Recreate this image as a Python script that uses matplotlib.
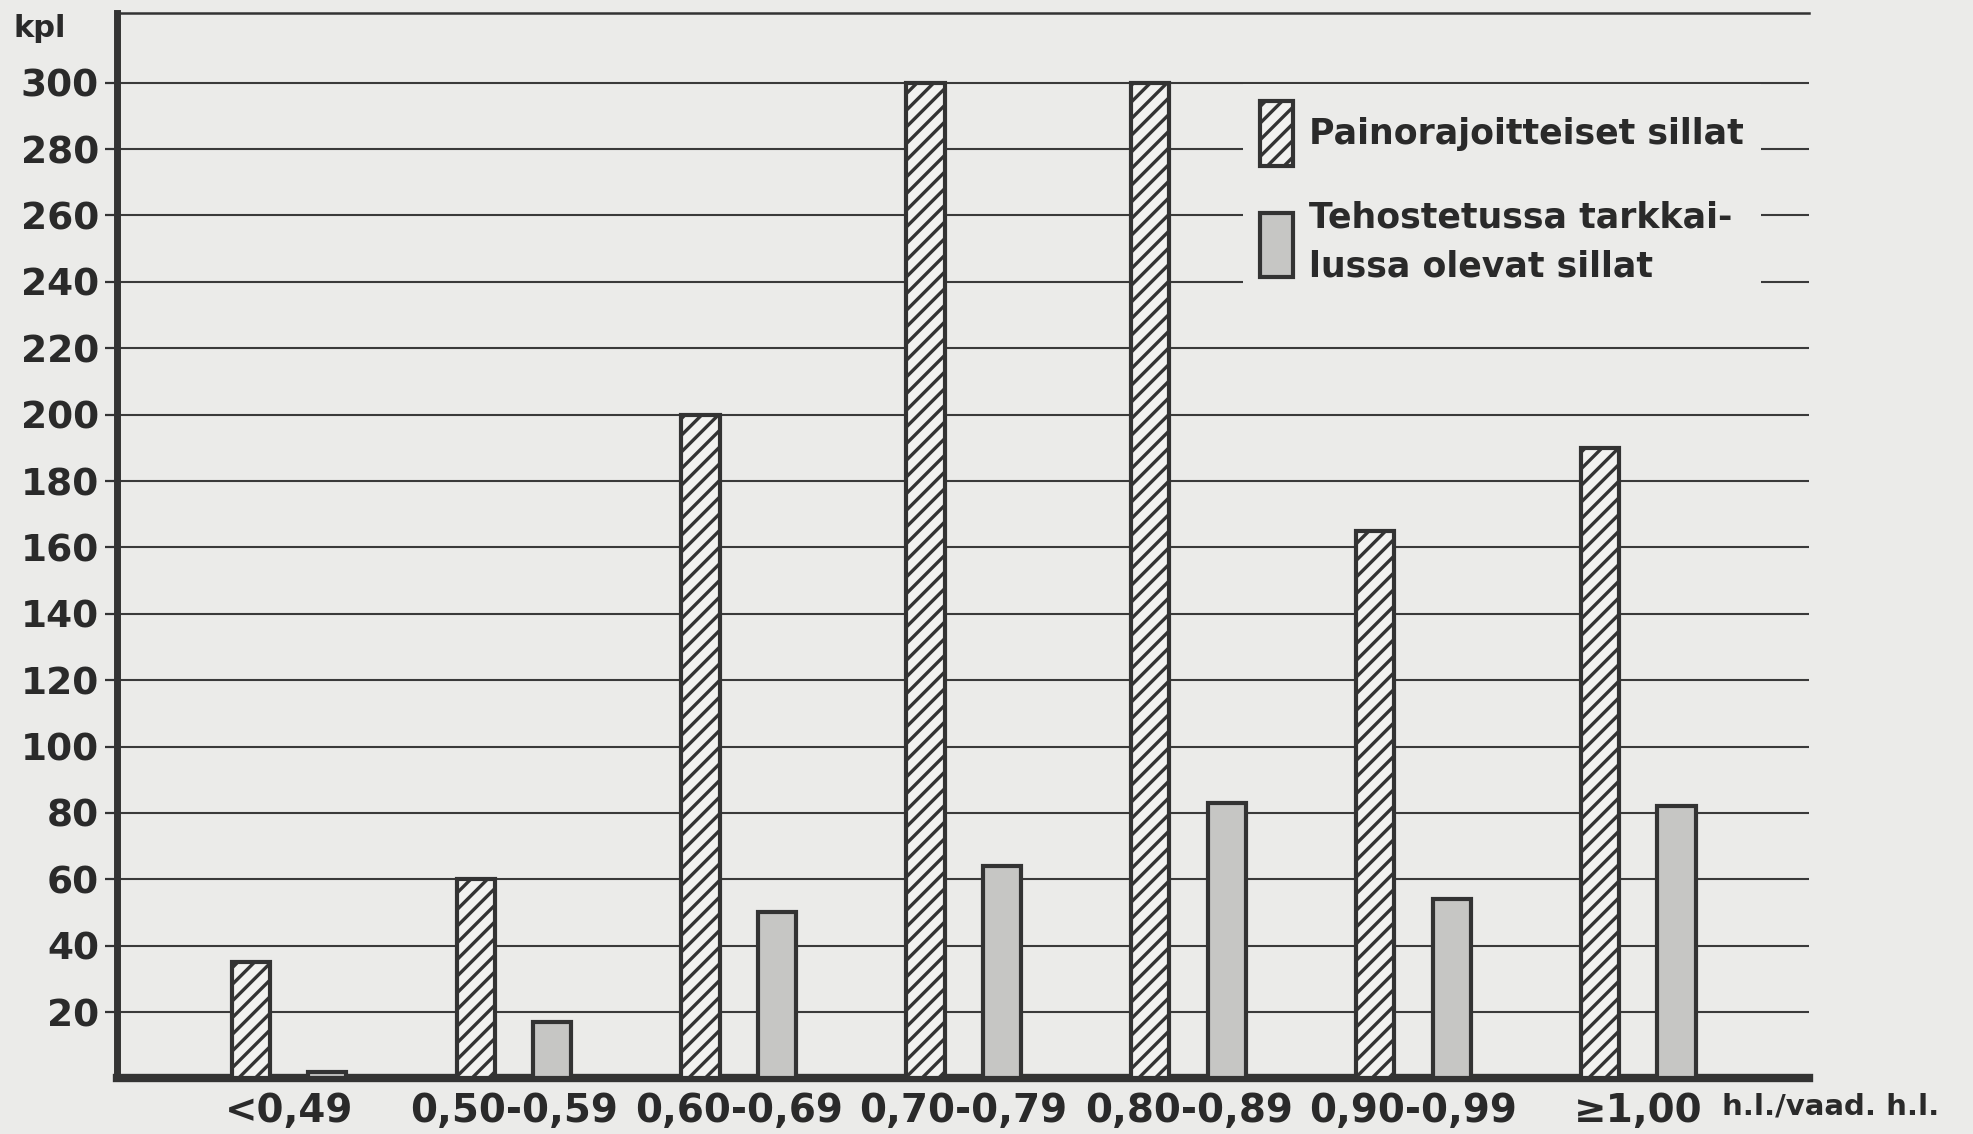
import numpy as np
import matplotlib
matplotlib.use("Agg")
import matplotlib.pyplot as plt
from matplotlib.patches import Patch

# luokat (h.l./vaad. h.l.)
luokat = ["<0,49", "0,50-0,59", "0,60-0,69", "0,70-0,79", "0,80-0,89", "0,90-0,99", "\u22651,00"]
painorajoitteiset = [35, 60, 200, 300, 300, 165, 190]
tehostetut = [2, 17, 50, 64, 83, 54, 82]
y_ticks = list(range(20, 301, 20))

paperi = "#ebebe9"
tumma = "#333333"

plt.rcParams["font.family"] = ["DejaVu Sans"]
plt.rcParams["font.weight"] = "bold"
plt.rcParams["hatch.linewidth"] = 2.4

fig = plt.figure(figsize=(19.73, 11.34), dpi=100)
fig.patch.set_facecolor(paperi)
ax = fig.add_axes([0.0593, 0.049, 0.8577, 0.9395])
ax.set_facecolor(paperi)

x = np.arange(len(luokat))
leveys = 0.17
ax.bar(x - 0.17, painorajoitteiset, leveys, facecolor="#f2f2f0", edgecolor=tumma,
       hatch="//", linewidth=3, zorder=3)
ax.bar(x + 0.17, tehostetut, leveys, facecolor="#c6c6c4", edgecolor=tumma,
       linewidth=3, zorder=3)

ax.set_xlim(-0.765, 6.76)
ax.set_ylim(0, 321)
ax.set_yticks(y_ticks)
ax.set_yticklabels([str(v) for v in y_ticks], fontsize=27, fontweight="bold", color="#2a2a2a")
ax.set_xticks(x)
ax.set_xticklabels(luokat, fontsize=28, fontweight="bold", color="#2a2a2a")
ax.tick_params(axis="y", length=9, width=1.6, color=tumma, pad=4)
ax.tick_params(axis="x", length=0, pad=10)
ax.grid(axis="y", color="#3a3a3a", linewidth=1.5, zorder=0.5)
ax.set_axisbelow(True)

ax.spines["right"].set_visible(False)
ax.spines["left"].set_linewidth(5)
ax.spines["left"].set_color(tumma)
ax.spines["bottom"].set_linewidth(6)
ax.spines["bottom"].set_color(tumma)
ax.spines["top"].set_linewidth(1.8)
ax.spines["top"].set_color(tumma)

handles = [Patch(facecolor="#f2f2f0", edgecolor=tumma, hatch="//", linewidth=3),
           Patch(facecolor="#c6c6c4", edgecolor=tumma, linewidth=3)]
leg = ax.legend(handles, ["Painorajoitteiset sillat", "Tehostetussa tarkkai-\nlussa olevat sillat"],
                loc="upper left", bbox_to_anchor=(0.655, 0.95), fontsize=25,
                frameon=True, facecolor=paperi, edgecolor="none", framealpha=1,
                handlelength=0.95, handleheight=2.5, labelspacing=1.0,
                handletextpad=0.45, borderpad=0.5, fancybox=False)
for t in leg.get_texts():
    t.set_fontweight("bold")
    t.set_color("#2a2a2a")
leg.get_texts()[1].set_linespacing(1.55)

fig.text(0.007, 0.975, "kpl", fontsize=22, fontweight="bold", color="#2a2a2a", va="center")
fig.text(0.873, 0.024, "h.l./vaad. h.l.", fontsize=21, fontweight="bold", color="#2a2a2a", va="center")

fig.savefig("out.png", dpi=100, facecolor=paperi)
